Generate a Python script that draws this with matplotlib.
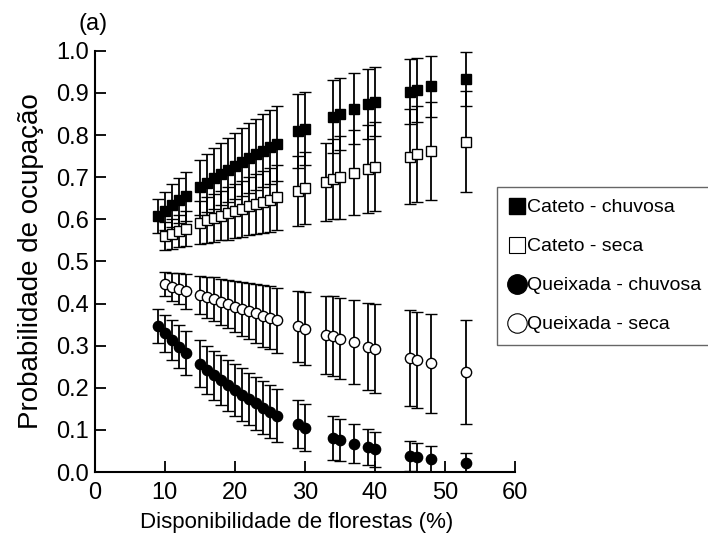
import matplotlib
matplotlib.use("Agg")
import matplotlib.pyplot as plt
from matplotlib.lines import Line2D

# Forest availability (%) for each series
x_chuvosa = [9, 10, 11, 12, 13, 15, 16, 17, 18, 19, 20, 21, 22, 23, 24, 25, 26,
             29, 30, 34, 35, 37, 39, 40, 45, 46, 48, 53]
x_seca = [10, 11, 12, 13, 15, 16, 17, 18, 19, 20, 21, 22, 23, 24, 25, 26,
          29, 30, 33, 34, 35, 37, 39, 40, 45, 46, 48, 53]

# Cateto - chuvosa
cat_chu = [0.608, 0.620, 0.633, 0.645, 0.655, 0.676, 0.687, 0.697, 0.707, 0.717,
           0.727, 0.736, 0.745, 0.754, 0.763, 0.772, 0.780, 0.810, 0.815, 0.844,
           0.850, 0.863, 0.873, 0.879, 0.903, 0.906, 0.916, 0.933]
cat_chu_err = [0.041, 0.046, 0.050, 0.054, 0.058, 0.066, 0.069, 0.072, 0.074, 0.076,
               0.079, 0.081, 0.083, 0.085, 0.087, 0.088, 0.090, 0.087, 0.087, 0.087,
               0.086, 0.084, 0.083, 0.082, 0.077, 0.076, 0.073, 0.065]

# Cateto - seca
cat_sec = [0.560, 0.566, 0.573, 0.578, 0.592, 0.598, 0.603, 0.609, 0.614, 0.620,
           0.625, 0.631, 0.636, 0.641, 0.647, 0.652, 0.668, 0.675, 0.689, 0.696,
           0.700, 0.711, 0.720, 0.725, 0.749, 0.754, 0.762, 0.784]
cat_sec_err = [0.033, 0.036, 0.038, 0.041, 0.051, 0.054, 0.057, 0.059, 0.062, 0.064,
               0.067, 0.069, 0.071, 0.074, 0.076, 0.078, 0.083, 0.085, 0.093, 0.095,
               0.098, 0.101, 0.104, 0.105, 0.113, 0.114, 0.116, 0.120]

# Queixada - chuvosa
qx_chu = [0.346, 0.330, 0.314, 0.298, 0.283, 0.257, 0.243, 0.230, 0.218, 0.206,
          0.195, 0.184, 0.173, 0.163, 0.153, 0.143, 0.134, 0.113, 0.105, 0.081,
          0.077, 0.067, 0.059, 0.054, 0.038, 0.035, 0.030, 0.022]
qx_chu_err = [0.040, 0.044, 0.047, 0.050, 0.053, 0.056, 0.057, 0.058, 0.059, 0.060,
              0.061, 0.062, 0.062, 0.063, 0.063, 0.063, 0.063, 0.057, 0.056, 0.052,
              0.050, 0.046, 0.043, 0.042, 0.035, 0.034, 0.031, 0.023]

# Queixada - seca
qx_sec = [0.446, 0.440, 0.435, 0.429, 0.420, 0.415, 0.410, 0.404, 0.399, 0.393,
          0.388, 0.382, 0.377, 0.371, 0.366, 0.360, 0.346, 0.340, 0.326, 0.322,
          0.317, 0.308, 0.298, 0.293, 0.271, 0.267, 0.258, 0.237]
qx_sec_err = [0.029, 0.033, 0.037, 0.041, 0.045, 0.049, 0.052, 0.055, 0.058, 0.061,
              0.064, 0.067, 0.070, 0.073, 0.075, 0.078, 0.085, 0.087, 0.093, 0.095,
              0.097, 0.100, 0.104, 0.106, 0.113, 0.114, 0.118, 0.124]

labels = ["Cateto - chuvosa", "Cateto - seca", "Queixada - chuvosa", "Queixada - seca"]
x_ticks = [0, 10, 20, 30, 40, 50, 60]
y_ticks = [0.0, 0.1, 0.2, 0.3, 0.4, 0.5, 0.6, 0.7, 0.8, 0.9, 1.0]

plt.rcParams['font.family'] = ['Liberation Sans', 'DejaVu Sans']

fig = plt.figure(figsize=(7.08, 5.47), dpi=100)
ax = fig.add_axes([0.134, 0.137, 0.593, 0.770])

# error bars + markers
eb = dict(ecolor='black', elinewidth=1.3, capsize=4.3, capthick=1.3, linestyle='none')
ax.errorbar(x_seca, cat_sec, yerr=cat_sec_err, marker='s', ms=6.8, mfc='white',
            mec='black', mew=1, **eb)
ax.errorbar(x_chuvosa, cat_chu, yerr=cat_chu_err, marker='s', ms=6.8, mfc='black',
            mec='black', mew=1, **eb)
ax.errorbar(x_seca, qx_sec, yerr=qx_sec_err, marker='o', ms=7.4, mfc='white',
            mec='black', mew=1, **eb)
ax.errorbar(x_chuvosa, qx_chu, yerr=qx_chu_err, marker='o', ms=7.4, mfc='black',
            mec='black', mew=1, **eb)

ax.set_xlim(0, 60)
ax.set_ylim(0, 1.0)
ax.set_xticks(x_ticks)
ax.set_yticks(y_ticks)
ax.set_yticklabels(["%.1f" % v for v in y_ticks])
ax.spines['top'].set_visible(False)
ax.spines['right'].set_visible(False)
ax.spines['left'].set_linewidth(1.5)
ax.spines['bottom'].set_linewidth(1.5)
ax.tick_params(direction='in', length=8, width=1.3, labelsize=17)
ax.tick_params(axis='x', pad=7)
ax.tick_params(axis='y', pad=4)
ax.set_xlabel('Disponibilidade de florestas (%)', fontsize=16, labelpad=6)
ax.xaxis.label.set_x(0.481)
ax.set_ylabel('Probabilidade de ocupação', fontsize=20, labelpad=9)

fig.text(0.131, 0.956, '(a)', fontsize=17, ha='center', va='center')

# legend with marker-only handles
handles = [
    Line2D([], [], ls='none', marker='s', ms=12, mfc='black', mec='black'),
    Line2D([], [], ls='none', marker='s', ms=12, mfc='white', mec='black', mew=0.8),
    Line2D([], [], ls='none', marker='o', ms=14, mfc='black', mec='black'),
    Line2D([], [], ls='none', marker='o', ms=14, mfc='white', mec='black', mew=0.8),
]
leg = fig.legend(handles, labels, loc='upper left', bbox_to_anchor=(0.702, 0.658),
                 fontsize=14, frameon=True, fancybox=False, handlelength=0.9,
                 handletextpad=0.05, labelspacing=1.1, borderpad=0.6,
                 borderaxespad=0)
leg.get_frame().set_edgecolor('#404040')
leg.get_frame().set_linewidth(1.0)

fig.savefig('out.png', dpi=100)
